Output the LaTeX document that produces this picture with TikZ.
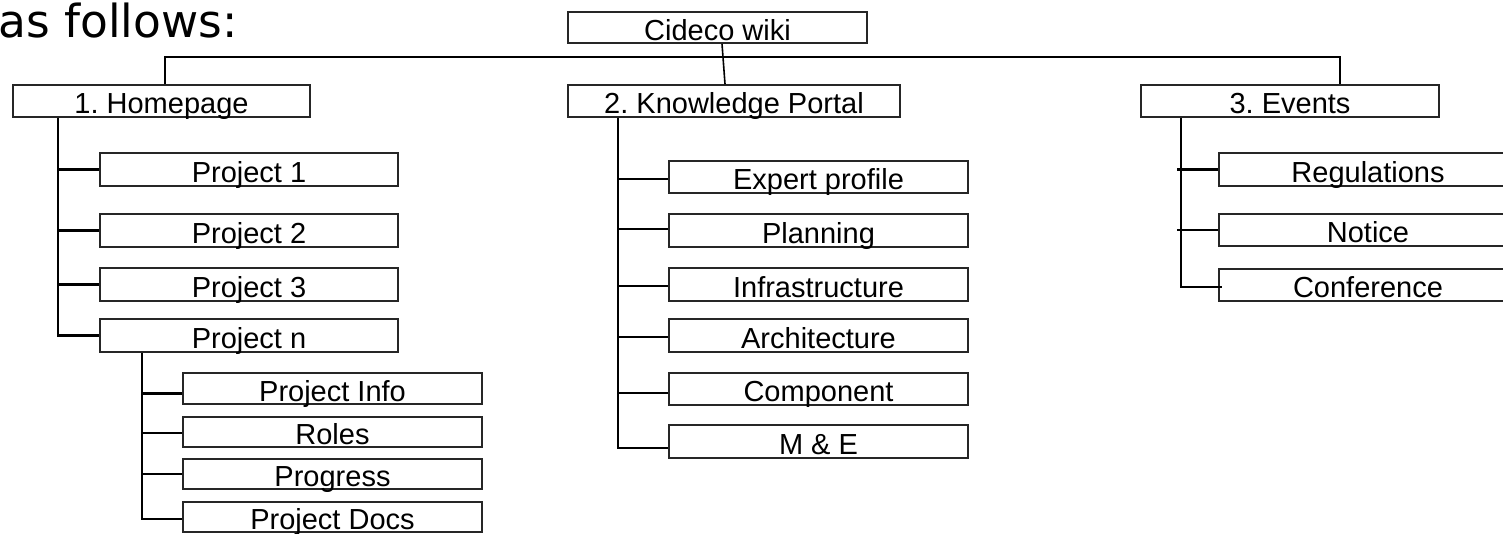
\documentclass[tikz,border=0pt]{standalone}
\usepackage{fontspec}
\setmainfont{Liberation Sans}
\newfontfamily\titlefont{DejaVu Sans}
\frenchspacing
\begin{document}
\begin{tikzpicture}[x=1pt,y=-1pt,
  box/.style={draw=black!85, line width=1.8pt, rectangle, inner sep=0pt,
    minimum width=298pt, minimum height=33pt, text height=25pt, text depth=0pt,
    font=\fontsize{29}{31}\selectfont},
  conn/.style={draw=black, line width=2.3pt}]
\useasboundingbox (0,0) rectangle (1503,533);
% title
\node[anchor=base west, inner sep=0pt, font=\titlefont\fontsize{45.5}{48}\selectfont] (title) at (-2,37) {as follows:};
% top levels
\node[box, minimum width=299pt, minimum height=31pt] (cideco) at (717.5,27.5) {Cideco wiki};
\node[box, minimum width=297pt, minimum height=32pt] (home) at (161.5,101) {1. Homepage};
\node[box, minimum width=332pt, minimum height=32pt] (kp) at (734,101) {2. Knowledge Portal};
\node[box, minimum height=32pt] (ev) at (1290,101) {3. Events};
% homepage children
\node[box] (p1) at (249,169.5) {Project 1};
\node[box] (p2) at (249,230.5) {Project 2};
\node[box] (p3) at (249,284.5) {Project 3};
\node[box] (pn) at (249,335.5) {Project n};
\node[box, minimum width=299pt, minimum height=31pt] (pinfo) at (332.5,388.5) {Project Info};
\node[box, minimum width=299pt, minimum height=30pt] (roles) at (332.5,432) {Roles};
\node[box, minimum width=299pt, minimum height=30pt] (prog) at (332.5,474) {Progress};
\node[box, minimum width=299pt, minimum height=30pt] (docs) at (332.5,517) {Project Docs};
% knowledge portal children
\node[box, minimum width=299pt, minimum height=32pt] (expert) at (818.5,177) {Expert profile};
\node[box, minimum width=299pt] (plan) at (818.5,230.5) {Planning};
\node[box, minimum width=299pt] (infra) at (818.5,284.5) {Infrastructure};
\node[box, minimum width=299pt] (arch) at (818.5,335.5) {Architecture};
\node[box, minimum width=299pt, minimum height=32pt] (comp) at (818.5,389) {Component};
\node[box, minimum width=299pt] (me) at (818.5,441.5) {M \& E};
% events children
\node[box] (reg) at (1368,169.5) {Regulations};
\node[box, minimum height=32pt] (notice) at (1368,230) {Notice};
\node[box, minimum height=32pt] (conf) at (1368,285) {Conference};
% connector coordinates
\coordinate (busL) at (165,57);
\coordinate (busR) at (1340,57);
\coordinate (hx) at (58,0);
\coordinate (nx) at (142,0);
\coordinate (kx) at (618,0);
\coordinate (ex) at (1181,0);
% top connectors
\draw[conn] (busL |- home.north) -- (busL) -- (busR) -- (busR |- ev.north);
\draw[line width=1.6pt] ([xshift=4.5pt]cideco.south) -- ([xshift=-9pt]kp.north);
% homepage tree
\draw[conn] (home.south -| hx) |- (pn.west);
\draw[conn] (p1.west) -- (p1.west -| hx);
\draw[conn] (p2.west) -- (p2.west -| hx);
\draw[conn] (p3.west) -- (p3.west -| hx);
\draw[conn] (pn.south -| nx) |- ([yshift=-2pt]docs.west);
\draw[conn] ([yshift=-5pt]pinfo.west) -- ([yshift=-5pt]pinfo.west -| nx);
\draw[conn] ([yshift=-1pt]roles.west) -- ([yshift=-1pt]roles.west -| nx);
\draw[conn] (prog.west) -- (prog.west -| nx);
% knowledge portal tree
\draw[conn] (kp.south -| kx) |- ([yshift=-6.5pt]me.west);
\draw[conn] ([yshift=-2pt]expert.west) -- ([yshift=-2pt]expert.west -| kx);
\draw[conn] ([yshift=1.5pt]plan.west) -- ([yshift=1.5pt]plan.west -| kx);
\draw[conn] ([yshift=-1.5pt]infra.west) -- ([yshift=-1.5pt]infra.west -| kx);
\draw[conn] ([yshift=-1.5pt]arch.west) -- ([yshift=-1.5pt]arch.west -| kx);
\draw[conn] ([yshift=-4pt]comp.west) -- ([yshift=-4pt]comp.west -| kx);
% events tree
\draw[conn] (ev.south -| ex) |- ([yshift=-2pt,xshift=4pt]conf.west);
\draw[conn] (reg.west) -- ([xshift=-4pt]reg.west -| ex);
\draw[conn] (notice.west) -- ([xshift=-4pt]notice.west -| ex);
\end{tikzpicture}
\end{document}
